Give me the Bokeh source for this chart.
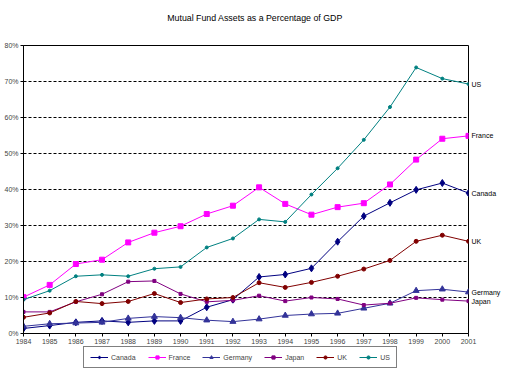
from bokeh.plotting import figure
from bokeh.layouts import column
from bokeh.models import (Range1d, FixedTicker, PrintfTickFormatter, Legend, LegendItem,
                          ColumnDataSource, LinearAxis)
from bokeh.core.properties import value
from bokeh.embed import file_html
from bokeh.resources import INLINE

years = list(range(1984, 2002))
canada = [1.4, 2.2, 3.1, 3.5, 3.1, 3.5, 3.5, 7.3, 9.4, 15.7, 16.4, 18.1, 25.5, 32.6, 36.3, 39.9, 41.8, 39.0]
france = [10.1, 13.5, 19.3, 20.5, 25.3, 28.0, 29.8, 33.2, 35.5, 40.6, 36.0, 33.0, 35.1, 36.2, 41.4, 48.3, 54.1, 54.9]
germany = [2.0, 2.7, 2.9, 3.1, 4.2, 4.7, 4.4, 3.7, 3.3, 4.0, 5.0, 5.4, 5.6, 7.0, 8.4, 11.9, 12.3, 11.5]
japan = [6.0, 6.0, 8.8, 10.9, 14.4, 14.6, 11.0, 8.8, 9.2, 10.5, 9.0, 10.0, 9.6, 7.9, 8.4, 9.9, 9.4, 9.0]
uk = [4.5, 5.7, 8.9, 8.3, 8.9, 11.1, 8.6, 9.6, 10.0, 14.1, 12.8, 14.2, 15.9, 17.9, 20.3, 25.6, 27.3, 25.6]
us = [9.4, 11.9, 15.9, 16.3, 15.9, 18.0, 18.5, 23.9, 26.4, 31.7, 31.0, 38.6, 45.9, 53.8, 62.9, 73.9, 70.8, 69.3]
y_ticks = [0, 10, 20, 30, 40, 50, 60, 70, 80]
title_text = "Mutual Fund Assets as a Percentage of GDP"

series = [
    ("Canada", canada, "#000080", "diamond", 7),
    ("France", france, "#FF00FF", "square", 5),
    ("Germany", germany, "#333399", "triangle", 6),
    ("Japan", japan, "#800080", "square", 3),
    ("UK", uk, "#800000", "circle", 4),
    ("US", us, "#008080", "circle", 3),
]

FONT = "Liberation Sans"


def bare(h):
    f = figure(width=509, height=h, output_backend="svg", toolbar_location=None,
               x_range=Range1d(0, 1), y_range=Range1d(0, 1),
               min_border_left=0, min_border_right=0, min_border_top=0, min_border_bottom=0)
    f.axis.visible = False
    f.grid.visible = False
    f.outline_line_color = None
    return f


# title strip
tf = bare(34)
tf.text(x=[0.5], y=[0.5], text=[title_text], x_offset=9, text_font=value(FONT),
        text_font_size="8.8px", text_align="center", text_baseline="middle",
        text_color="black")

p = figure(width=509, height=312, output_backend="svg", toolbar_location=None,
           x_range=Range1d(1984, 2001), y_range=Range1d(0, 80),
           min_border_left=23, min_border_right=41, min_border_top=11, min_border_bottom=13)

p.outline_line_color = "black"
p.outline_line_width = 1
p.xgrid.visible = False
p.ygrid.grid_line_color = "black"
p.ygrid.grid_line_dash = "3 2"
p.ygrid.grid_line_width = 1

for ax in (p.xaxis[0], p.yaxis[0]):
    ax.axis_line_color = "black"
    ax.major_tick_line_color = "black"
    ax.major_tick_in = 0
    ax.major_tick_out = 3
    ax.minor_tick_line_color = None
    ax.major_label_text_font = FONT
    ax.major_label_text_font_size = "7px"
    ax.major_label_standoff = 2

p.xaxis.ticker = FixedTicker(ticks=years)
p.yaxis.ticker = FixedTicker(ticks=y_ticks)
p.yaxis.formatter = PrintfTickFormatter(format="%d%%")

# legend strip below the chart (its renderers sit outside its visible range)
lf = bare(25)

items = []
end_vals = []
overrides = {}
for name, vals, color, marker, size in series:
    src = ColumnDataSource(dict(x=years, y=vals))
    p.line("x", "y", source=src, line_color=color, line_width=1)
    p.scatter("x", "y", source=src, marker=marker, size=size,
              fill_color=color, line_color=color)
    ln = lf.line("x", "y", source=src, line_color=color, line_width=1)
    sc = lf.scatter("x", "y", source=src, marker=marker, size=size,
                    fill_color=color, line_color=color)
    items.append(LegendItem(label=name, renderers=[ln, sc]))
    end_vals.append(vals[-1])
    overrides[vals[-1]] = name

# series-name labels at the last point, drawn by a right-hand axis
right = LinearAxis(ticker=FixedTicker(ticks=end_vals), major_label_overrides=overrides)
right.axis_line_color = None
right.major_tick_line_color = None
right.major_tick_in = 0
right.major_tick_out = 0
right.minor_tick_line_color = None
right.major_label_standoff = 3
right.major_label_text_font = FONT
right.major_label_text_font_size = "7px"
right.major_label_text_color = "black"
p.add_layout(right, "right")

legend = Legend(items=items, orientation="horizontal", location=(60, 3),
                glyph_width=18, glyph_height=8, label_standoff=3, spacing=12,
                label_width=10, label_height=8,
                padding=6, margin=0, label_text_font=FONT, label_text_font_size="7px",
                border_line_color="black", border_line_width=1,
                background_fill_color="white", background_fill_alpha=1)
lf.add_layout(legend, "center")

open("out.html", "w").write(file_html(column(tf, p, lf, spacing=0), INLINE))
